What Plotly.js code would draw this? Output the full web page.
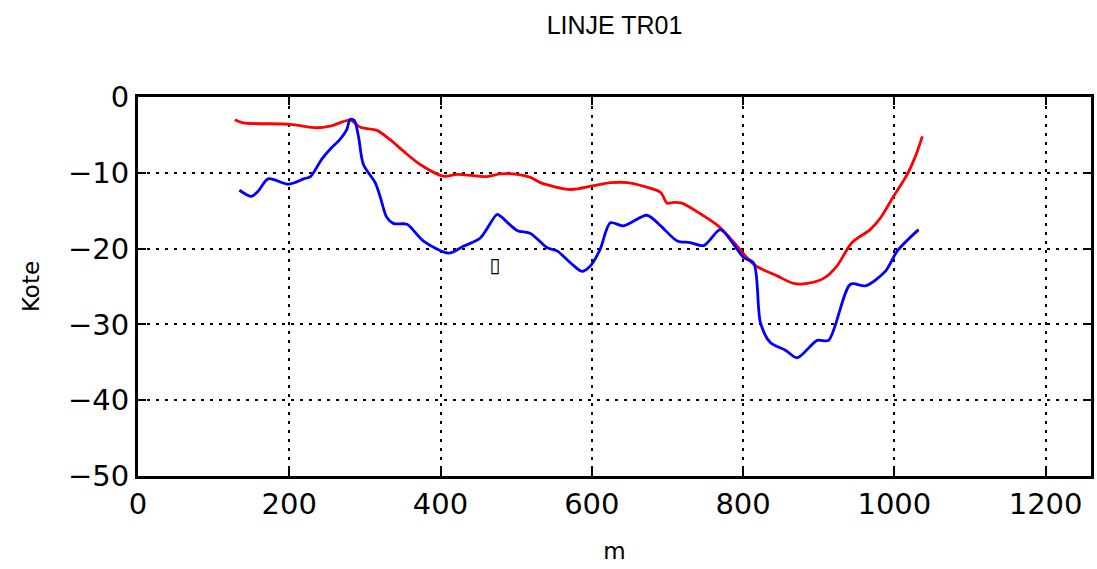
<!DOCTYPE html>
<html>
<head>
<meta charset="utf-8">
<script src="https://cdn.plot.ly/plotly-3.0.1.min.js"></script>
<style>html,body{margin:0;padding:0;background:#fff;}#chart{width:1097px;height:569px;}</style>
</head>
<body>
<div id="chart"></div>
<script>
// Red profile
const redX = [128, 139, 201, 236, 254, 280.5, 294, 316, 333, 351, 373, 404, 422, 461, 479, 501, 519, 532, 572, 602, 625, 647, 669, 691, 699.5, 708, 719, 745, 767, 788, 805, 817, 845, 867, 885, 907, 924, 944, 968, 982, 999, 1017, 1028, 1037];
const redY = [-3.0, -3.4, -3.6, -4.06, -3.85, -3.06, -4.0, -4.4, -5.6, -7.15, -8.9, -10.45, -10.2, -10.5, -10.15, -10.2, -10.6, -11.3, -12.2, -11.7, -11.3, -11.3, -11.8, -12.6, -14.0, -13.9, -14.0, -15.5, -17.0, -19.2, -21.2, -22.3, -23.6, -24.6, -24.6, -23.9, -22.3, -19.2, -17.5, -15.9, -13.1, -10.2, -7.8, -5.2];
// Blue profile
const blueX = [134, 150, 159, 172, 199, 219, 228, 243, 254, 267, 276, 280.5, 286, 291.5, 298, 313.6, 320, 329, 338, 355.5, 377.5, 410.6, 430, 452.5, 474.5, 479, 501, 519, 541, 554, 572, 587, 598, 611, 624.5, 642, 673, 691, 713, 730, 748, 770, 788, 801, 814, 823, 836, 856, 871.5, 898, 913, 942, 962, 988, 1004, 1032];
const blueY = [-12.3, -13.1, -12.4, -10.8, -11.5, -10.8, -10.5, -8.2, -6.9, -5.6, -4.3, -2.95, -3.1, -5.2, -8.9, -11.3, -13.1, -15.9, -16.7, -16.8, -19.0, -20.6, -19.7, -18.6, -15.5, -15.7, -17.6, -18.0, -19.9, -20.3, -21.9, -23.0, -22.3, -20.1, -16.6, -17.0, -15.6, -17.0, -19.0, -19.2, -19.6, -17.5, -19.5, -21.2, -21.9, -29.8, -32.4, -33.4, -34.4, -32.1, -32.1, -24.7, -24.9, -23.0, -20.3, -17.5];
// Stray glyph
const noteX = [472];
const noteY = [-22.4];
const noteText = ['\u25AF'];

const titleText = 'LINJE TR01';
const xTitle = 'm';
const yTitle = 'Kote';

const tickFont = {family: 'DejaVu Sans', size: 29, color: '#000'};
const titleFont = {family: 'Liberation Sans, Arial', size: 25, color: '#000'};
const labelFont = {family: 'DejaVu Sans', size: 23, color: '#000'};

const traces = [
  {x: redX, y: redY, mode: 'lines', line: {color: '#ff0000', width: 2.8, shape: 'spline', smoothing: 0.8}, hoverinfo: 'skip'},
  {x: blueX, y: blueY, mode: 'lines', line: {color: '#0000ff', width: 2.8, shape: 'spline', smoothing: 0.8}, hoverinfo: 'skip'},
  {x: noteX, y: noteY, mode: 'text', text: noteText, textfont: {family: 'DejaVu Sans', size: 20, color: '#000'}, hoverinfo: 'skip'}
];

const axisCommon = {
  showline: true, linecolor: '#000', linewidth: 3, mirror: 'ticks',
  ticks: 'inside', ticklen: 8, tickwidth: 2, tickcolor: '#000',
  showgrid: true, gridcolor: '#000', gridwidth: 2, griddash: '3px,6px',
  zeroline: false, tickfont: tickFont, automargin: false
};

const layout = {
  width: 1097, height: 569,
  margin: {l: 138, r: 6, t: 97, b: 93},
  paper_bgcolor: '#fff', plot_bgcolor: '#fff',
  showlegend: false,
  title: {text: titleText, font: titleFont, x: 0.5, xanchor: 'center', xref: 'paper', y: 0.955, yref: 'container', yanchor: 'middle'},
  xaxis: Object.assign({}, axisCommon, {range: [0, 1260], dtick: 200, tick0: 0, title: {text: xTitle, font: labelFont, standoff: 24}}),
  yaxis: Object.assign({}, axisCommon, {range: [-50, 0], dtick: 10, tick0: 0, title: {text: yTitle, font: labelFont, standoff: 22}})
};

Plotly.newPlot('chart', traces, layout, {staticPlot: true, displayModeBar: false});
</script>
</body>
</html>
